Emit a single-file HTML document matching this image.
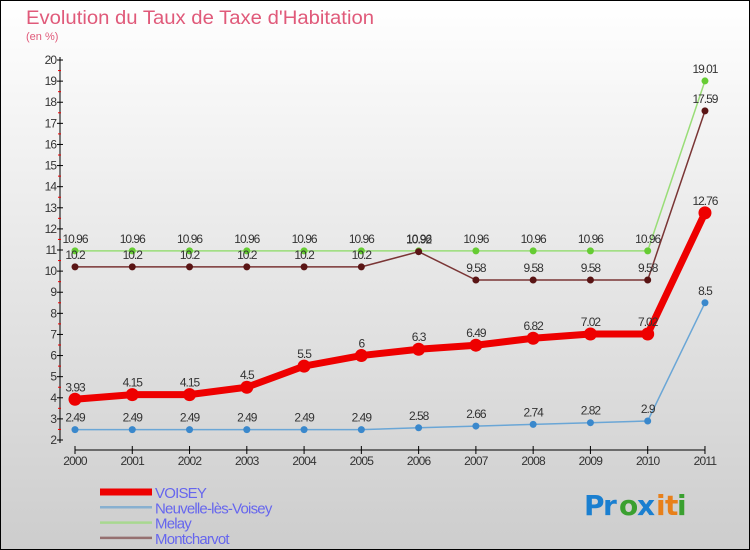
<!DOCTYPE html>
<html><head><meta charset="utf-8"><style>
body{margin:0;width:750px;height:550px;overflow:hidden;font-family:"Liberation Sans",sans-serif}
svg{display:block}
</style></head><body>
<svg id="chart" width="750" height="550" viewBox="0 0 750 550" xmlns="http://www.w3.org/2000/svg">
<defs><linearGradient id="bg" x1="0" y1="0" x2="0" y2="1"><stop offset="0" stop-color="#ffffff"/><stop offset="1" stop-color="#cdcdcd"/></linearGradient></defs>
<rect x="0.5" y="0.5" width="749" height="549" fill="url(#bg)" stroke="#000"/>
<text x="26" y="24" font-size="19" fill="#e05a7a" textLength="348" lengthAdjust="spacingAndGlyphs">Evolution du Taux de Taxe d'Habitation</text>
<text x="26" y="40" font-size="11" fill="#e05a7a">(en %)</text>
<g id="axes"></g><g id="series"></g><g id="legend"></g>
<g font-size="28" font-family="'DejaVu Sans',sans-serif" font-weight="bold">
<text x="584" y="515" fill="#1a7fd0">P</text><text x="603" y="515" fill="#1a7fd0">r</text><text x="619" y="515" fill="#3aa030">o</text><text x="637" y="515" fill="#1a7fd0">x</text><text x="656" y="515" fill="#e8801a">i</text><text x="665" y="515" fill="#e8801a">t</text><text x="677" y="515" fill="#3aa030">i</text>
</g>
</svg>
<script>
const years=["2000","2001","2002","2003","2004","2005","2006","2007","2008","2009","2010","2011"];
const voisey=[3.93,4.15,4.15,4.5,5.5,6,6.3,6.49,6.82,7.02,7.02,12.76];
const neuvelle=[2.49,2.49,2.49,2.49,2.49,2.49,2.58,2.66,2.74,2.82,2.9,8.5];
const melay=[10.96,10.96,10.96,10.96,10.96,10.96,10.96,10.96,10.96,10.96,10.96,19.01];
const montcharvot=[10.2,10.2,10.2,10.2,10.2,10.2,10.92,9.58,9.58,9.58,9.58,17.59];
const yTicks=[2,3,4,5,6,7,8,9,10,11,12,13,14,15,16,17,18,19,20];
const NS="http://www.w3.org/2000/svg";
const X=i=>75+i*57.27, Y=v=>440-(v-2)*21.11;
function mk(p,t,a){const e=document.createElementNS(NS,t);for(const k in a)e.setAttribute(k,a[k]);p.appendChild(e);return e;}
const ax=document.getElementById('axes');
const yl=mk(ax,'line',{x1:60,y1:57,x2:60,y2:443,stroke:'#000'});


const xl=mk(ax,'line',{x1:75,y1:450,x2:705,y2:450,stroke:'#000'});


yTicks.forEach(v=>{
 mk(ax,'line',{x1:57,x2:63,y1:Y(v),y2:Y(v),stroke:'#000'});
 if(v<20)mk(ax,'line',{x1:58,x2:61,y1:Y(v+0.5),y2:Y(v+0.5),stroke:'#e00'});
 const t=mk(ax,'text',{x:56,y:Y(v)+4,'font-size':12,'text-anchor':'end',fill:'#333','letter-spacing':'-1'});t.textContent=v;
 
 
});
years.forEach((y,i)=>{
 mk(ax,'line',{x1:X(i),x2:X(i),y1:446,y2:454,stroke:'#000'});
 const t=mk(ax,'text',{x:X(i),y:465,'font-size':12,'text-anchor':'middle',fill:'#333','letter-spacing':'-0.8'});t.textContent=y;
 
 
});
const sg=document.getElementById('series');
const defs=[
 {d:melay,c:'#99dd77',w:1.5,m:'#66cc33',r:3.5,n:'melay'},
 {d:montcharvot,c:'#7a3535',w:1.5,m:'#5a1515',r:3.5,n:'montcharvot'},
 {d:neuvelle,c:'#6aa6d6',w:1.5,m:'#3a88cc',r:3.5,n:'neuvelle'},
 {d:voisey,c:'#ee0000',w:7,m:'#ee0000',r:6.5,n:'voisey'}];
defs.forEach(s=>{
 const g=mk(sg,'g',{});
 
 
 const l=mk(g,'polyline',{points:s.d.map((v,i)=>X(i)+','+Y(v)).join(' '),fill:'none',stroke:s.c,'stroke-width':s.w});
 
 
 s.d.forEach((v,i)=>{
  const c=mk(g,'circle',{cx:X(i),cy:Y(v),r:s.r,fill:s.m});
  
  
  const t=mk(g,'text',{x:X(i),y:Y(v)-8,'font-size':12,'text-anchor':'middle',fill:'#333','letter-spacing':'-1'});t.textContent=v;
  
  
 });
});
const lg=document.getElementById('legend');
const items=[["VOISEY","#ee0000",7],["Neuvelle-lès-Voisey","#88b0d0",2.5],["Melay","#a8d890",2.5],["Montcharvot","#957070",2.5]];
items.forEach((it,i)=>{
 const y=492+i*15.3;
 const g=mk(lg,'g',{});
 
 
 mk(g,'line',{x1:100,x2:152,y1:y,y2:y,stroke:it[1],'stroke-width':it[2]});
 const t=mk(g,'text',{x:155,y:y+6,'font-size':15,fill:'#6666ee','letter-spacing':'-0.8'});t.textContent=it[0];
});
</script>
</body></html>
